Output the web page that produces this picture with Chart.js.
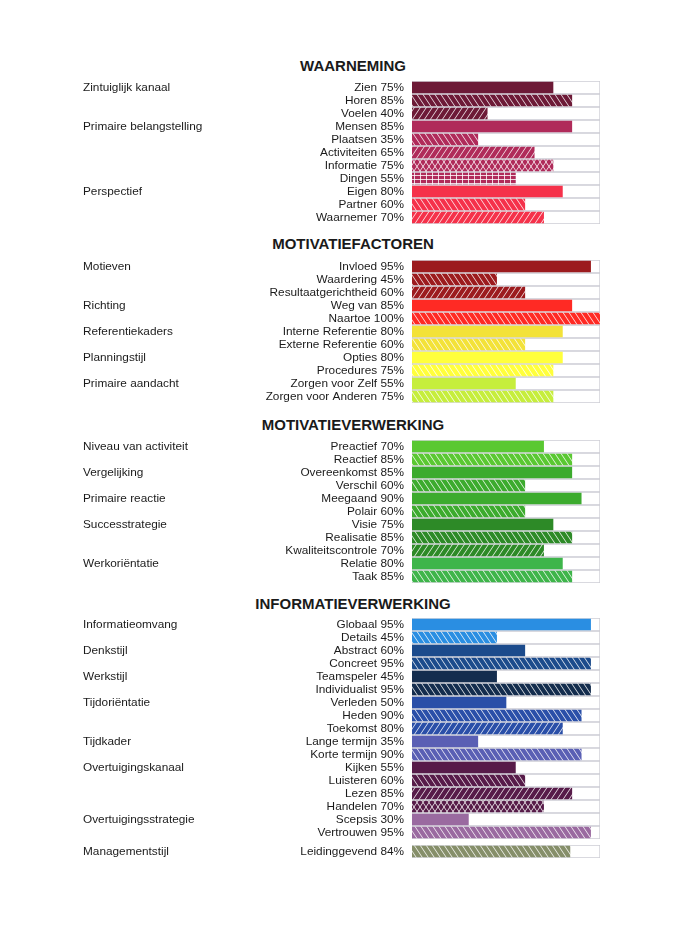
<!DOCTYPE html>
<html>
<head>
<meta charset="utf-8">
<script src="https://cdn.jsdelivr.net/npm/chart.js@4.4.0/dist/chart.umd.min.js"></script>
<style>
  html, body { margin: 0; padding: 0; background: #fff; }
  #page { position: relative; width: 700px; height: 935px; overflow: hidden; }
  .title {
    position: absolute; left: 0; width: 706px; text-align: center;
    font: bold 15px 'Liberation Sans', Arial, sans-serif; color: #1a1a1a; line-height: 16px;
  }
  canvas { position: absolute; left: 0; }
</style>
</head>
<body>
<div id="page">
  <div class="title" style="top:58px">WAARNEMING</div>
  <canvas id="c1" width="600" height="143" style="top:81px"></canvas>

  <div class="title" style="top:236px">MOTIVATIEFACTOREN</div>
  <canvas id="c2" width="600" height="143" style="top:260px"></canvas>

  <div class="title" style="top:417px">MOTIVATIEVERWERKING</div>
  <canvas id="c3" width="600" height="143" style="top:440px"></canvas>

  <div class="title" style="top:596px">INFORMATIEVERWERKING</div>
  <canvas id="c4" width="600" height="221" style="top:618px"></canvas>

  <canvas id="c5" width="600" height="13" style="top:845px"></canvas>
</div>

<script>
// ===== Data =====
const waarnemingLabels = ['Zien', 'Horen', 'Voelen', 'Mensen', 'Plaatsen', 'Activiteiten', 'Informatie', 'Dingen', 'Eigen', 'Partner', 'Waarnemer'];
const waarnemingValues = [75, 85, 40, 85, 35, 65, 75, 55, 80, 60, 70];
const waarnemingGroups = ['Zintuiglijk kanaal', '', '', 'Primaire belangstelling', '', '', '', '', 'Perspectief', '', ''];

const motivatieLabels = ['Invloed', 'Waardering', 'Resultaatgerichtheid', 'Weg van', 'Naartoe', 'Interne Referentie', 'Externe Referentie', 'Opties', 'Procedures', 'Zorgen voor Zelf', 'Zorgen voor Anderen'];
const motivatieValues = [95, 45, 60, 85, 100, 80, 60, 80, 75, 55, 75];
const motivatieGroups = ['Motieven', '', '', 'Richting', '', 'Referentiekaders', '', 'Planningstijl', '', 'Primaire aandacht', ''];

const verwerkingLabels = ['Preactief', 'Reactief', 'Overeenkomst', 'Verschil', 'Meegaand', 'Polair', 'Visie', 'Realisatie', 'Kwaliteitscontrole', 'Relatie', 'Taak'];
const verwerkingValues = [70, 85, 85, 60, 90, 60, 75, 85, 70, 80, 85];
const verwerkingGroups = ['Niveau van activiteit', '', 'Vergelijking', '', 'Primaire reactie', '', 'Successtrategie', '', '', 'Werkoriëntatie', ''];

const informatieLabels = ['Globaal', 'Details', 'Abstract', 'Concreet', 'Teamspeler', 'Individualist', 'Verleden', 'Heden', 'Toekomst', 'Lange termijn', 'Korte termijn', 'Kijken', 'Luisteren', 'Lezen', 'Handelen', 'Scepsis', 'Vertrouwen'];
const informatieValues = [95, 45, 60, 95, 45, 95, 50, 90, 80, 35, 90, 55, 60, 85, 70, 30, 95];
const informatieGroups = ['Informatieomvang', '', 'Denkstijl', '', 'Werkstijl', '', 'Tijdoriëntatie', '', '', 'Tijdkader', '', 'Overtuigingskanaal', '', '', '', 'Overtuigingsstrategie', ''];

const managementLabels = ['Leidinggevend'];
const managementValues = [84];
const managementGroups = ['Managementstijl'];

// ===== Styles (colour + fill: s solid, b \\\ hatch, f /// hatch, x cross, g grid) =====
const waarnemingColors = ['#6d1a37', '#6d1a37', '#6d1a37', '#b02b5a', '#b02b5a', '#b02b5a', '#b02b5a', '#b02b5a', '#f5314a', '#f5314a', '#f5314a'];
const waarnemingFills = ['s', 'b', 'f', 's', 'b', 'f', 'x', 'g', 's', 'b', 'f'];

const motivatieColors = ['#9c1b1e', '#9c1b1e', '#9c1b1e', '#ff2a24', '#ff2a24', '#f3e238', '#f3e238', '#ffff3c', '#ffff3c', '#c6ee3c', '#c6ee3c'];
const motivatieFills = ['s', 'b', 'f', 's', 'b', 's', 'b', 's', 'b', 's', 'b'];

const verwerkingColors = ['#5ac832', '#5ac832', '#3cab2e', '#3cab2e', '#3cab2e', '#3cab2e', '#2d8a27', '#2d8a27', '#2d8a27', '#3eb54a', '#3eb54a'];
const verwerkingFills = ['s', 'b', 's', 'b', 's', 'b', 's', 'b', 'f', 's', 'b'];

const informatieColors = ['#2a8ee2', '#2a8ee2', '#1c4b8c', '#1c4b8c', '#142d4e', '#142d4e', '#2a4fa8', '#2a4fa8', '#2a4fa8', '#5a5fb4', '#5a5fb4', '#571b49', '#571b49', '#571b49', '#571b49', '#9a6aa0', '#9a6aa0'];
const informatieFills = ['s', 'b', 's', 'b', 's', 'b', 's', 'b', 'f', 's', 'b', 's', 'b', 'f', 'x', 's', 'b'];

const managementColors = ['#868f6a'];
const managementFills = ['b'];

Chart.defaults.font.family = "'Liberation Sans', Arial, sans-serif";
Chart.defaults.font.size = 11.8;
Chart.defaults.color = '#1a1a1a';

// ===== Hatch patterns =====
function makeFill(color, kind) {
  if (kind === 's') return color;
  const c = document.createElement('canvas');
  const ctx = c.getContext('2d');
  const w = 6, h = kind === 'g' ? 4 : 9;
  c.width = w;
  c.height = h;
  ctx.fillStyle = color;
  ctx.fillRect(0, 0, w, h);
  ctx.strokeStyle = 'rgba(255,255,255,0.8)';
  ctx.lineWidth = 1;
  ctx.beginPath();
  const steps = [-w, 0, w];
  if (kind === 'b' || kind === 'x') {
    steps.forEach(x0 => { ctx.moveTo(x0, 0); ctx.lineTo(x0 + w, h); });
  }
  if (kind === 'f' || kind === 'x') {
    steps.forEach(x0 => { ctx.moveTo(x0, h); ctx.lineTo(x0 + w, 0); });
  }
  if (kind === 'g') {
    ctx.moveTo(0.5, 0); ctx.lineTo(0.5, h);
    ctx.moveTo(0, 2.5); ctx.lineTo(w, 2.5);
  }
  ctx.stroke();
  return ctx.createPattern(c, 'repeat');
}

const trackMax = 100;

function makeChart(id, labels, values, groups, colors, fills) {
  const itemLabels = labels.map((l, i) => `${l} ${values[i]}%`);
  const noPad = (w) => (scale) => {
    scale.width = w;
    scale.paddingTop = 0;
    scale.paddingBottom = 0;
  };

  return new Chart(document.getElementById(id), {
    type: 'bar',
    data: {
      labels: itemLabels,
      datasets: [
        {
          data: values,
          yAxisID: 'y',
          backgroundColor: values.map((v, i) => makeFill(colors[i], fills[i])),
          borderWidth: 0,
          barThickness: 11,
          grouped: false
        },
        {
          // empty 0-100% track behind every bar
          data: labels.map(() => trackMax),
          yAxisID: 'y',
          backgroundColor: '#ffffff',
          borderColor: '#cdcdd4',
          borderWidth: 1,
          borderSkipped: false,
          barThickness: 13,
          grouped: false
        }
      ]
    },
    options: {
      indexAxis: 'y',
      responsive: false,
      animation: false,
      events: [],
      layout: { padding: { left: 83, top: 0, right: 0, bottom: 0 } },
      plugins: {
        legend: { display: false },
        tooltip: { enabled: false }
      },
      scales: {
        x: { display: false, min: 0, max: trackMax },
        y: {
          type: 'category',
          axis: 'y',
          position: 'left',
          weight: 0,
          offset: true,
          grid: { display: false, drawTicks: false },
          border: { display: false },
          ticks: { autoSkip: false, padding: 8, crossAlign: 'near' },
          afterFit: noPad(179)
        },
        g: {
          type: 'category',
          axis: 'y',
          labels: groups,
          position: 'left',
          weight: 1,
          offset: true,
          grid: { display: false, drawTicks: false },
          border: { display: false },
          ticks: { autoSkip: false, padding: 0, crossAlign: 'far' },
          afterFit: noPad(150)
        }
      }
    }
  });
}

// ===== Charts =====
makeChart('c1', waarnemingLabels, waarnemingValues, waarnemingGroups, waarnemingColors, waarnemingFills);
makeChart('c2', motivatieLabels, motivatieValues, motivatieGroups, motivatieColors, motivatieFills);
makeChart('c3', verwerkingLabels, verwerkingValues, verwerkingGroups, verwerkingColors, verwerkingFills);
makeChart('c4', informatieLabels, informatieValues, informatieGroups, informatieColors, informatieFills);
makeChart('c5', managementLabels, managementValues, managementGroups, managementColors, managementFills);
</script>
</body>
</html>
